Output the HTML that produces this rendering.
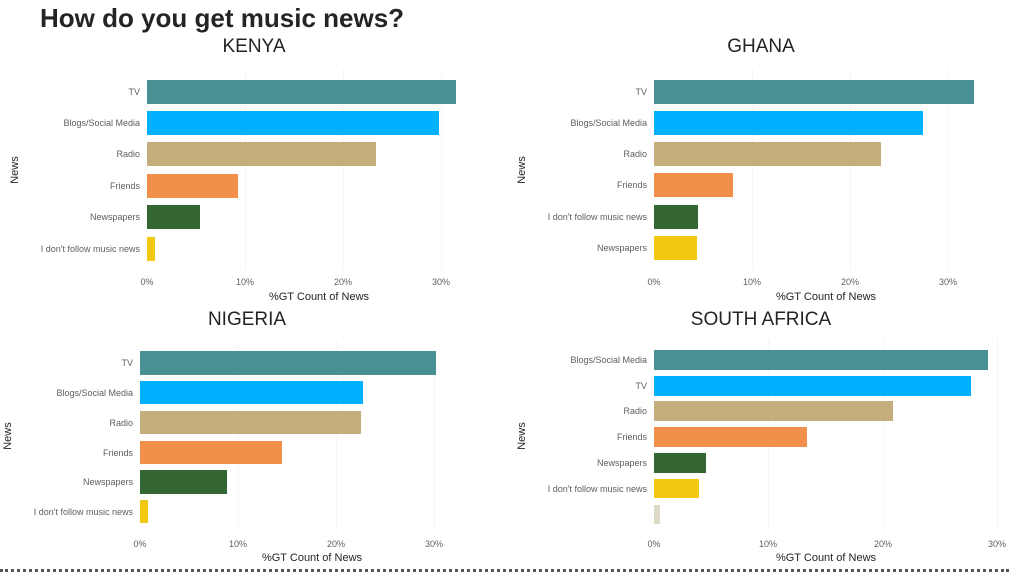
<!DOCTYPE html>
<html><head><meta charset="utf-8"><style>
body{margin:0;width:1009px;height:583px;background:#fff;position:relative;overflow:hidden;font-family:"Liberation Sans",sans-serif}
div{position:absolute}
.b{height:24px}
.l{font-size:9px;color:#605e5c;text-align:right;width:200px;line-height:12px;white-space:nowrap}
.t{font-size:9px;color:#605e5c;width:40px;text-align:center}
.g{width:0;border-left:1px dotted #eee}
.ct{font-size:19px;color:#252423;width:300px;text-align:center}
.ax{font-size:11px;color:#252423;width:200px;text-align:center}
.nw{font-size:11px;color:#252423;transform:rotate(-90deg);transform-origin:center;width:40px;text-align:center}
.c1{background:#4a8f93}.c2{background:#01b0ff}.c3{background:#c4af7c}.c4{background:#f28f4a}.c5{background:#336633}.c6{background:#f2c811}.c7{background:#dcd9c5}
</style></head><body>
<div style="left:40px;top:3px;font-size:26px;font-weight:bold;color:#252423">How do you get music news?</div>

<!-- KENYA -->
<div class="ct" style="left:104px;top:36px">KENYA</div>
<div class="g" style="left:245px;top:70px;height:200px"></div><div class="g" style="left:343px;top:70px;height:200px"></div><div class="g" style="left:441px;top:70px;height:200px"></div>
<div class="b c1" style="left:147px;top:80px;width:309px"></div>
<div class="b c2" style="left:147px;top:111px;width:292px"></div>
<div class="b c3" style="left:147px;top:142px;width:229px"></div>
<div class="b c4" style="left:147px;top:174px;width:91px"></div>
<div class="b c5" style="left:147px;top:205px;width:53px"></div>
<div class="b c6" style="left:147px;top:237px;width:8px"></div>
<div class="l" style="left:-60px;top:86px">TV</div>
<div class="l" style="left:-60px;top:117px">Blogs/Social Media</div>
<div class="l" style="left:-60px;top:148px">Radio</div>
<div class="l" style="left:-60px;top:180px">Friends</div>
<div class="l" style="left:-60px;top:211px">Newspapers</div>
<div class="l" style="left:-60px;top:243px">I don't follow music news</div>
<div class="t" style="left:127px;top:277px">0%</div><div class="t" style="left:225px;top:277px">10%</div><div class="t" style="left:323px;top:277px">20%</div><div class="t" style="left:421px;top:277px">30%</div>
<div class="ax" style="left:219px;top:291px">%GT Count of News</div>
<div class="nw" style="left:-5px;top:164px">News</div>

<!-- GHANA -->
<div class="ct" style="left:611px;top:36px">GHANA</div>
<div class="g" style="left:752px;top:70px;height:200px"></div><div class="g" style="left:850px;top:70px;height:200px"></div><div class="g" style="left:948px;top:70px;height:200px"></div>
<div class="b c1" style="left:654px;top:80px;width:320px"></div>
<div class="b c2" style="left:654px;top:111px;width:269px"></div>
<div class="b c3" style="left:654px;top:142px;width:227px"></div>
<div class="b c4" style="left:654px;top:173px;width:79px"></div>
<div class="b c5" style="left:654px;top:205px;width:44px"></div>
<div class="b c6" style="left:654px;top:236px;width:43px"></div>
<div class="l" style="left:447px;top:86px">TV</div>
<div class="l" style="left:447px;top:117px">Blogs/Social Media</div>
<div class="l" style="left:447px;top:148px">Radio</div>
<div class="l" style="left:447px;top:179px">Friends</div>
<div class="l" style="left:447px;top:211px">I don't follow music news</div>
<div class="l" style="left:447px;top:242px">Newspapers</div>
<div class="t" style="left:634px;top:277px">0%</div><div class="t" style="left:732px;top:277px">10%</div><div class="t" style="left:830px;top:277px">20%</div><div class="t" style="left:928px;top:277px">30%</div>
<div class="ax" style="left:726px;top:291px">%GT Count of News</div>
<div class="nw" style="left:502px;top:164px">News</div>

<!-- NIGERIA -->
<div class="ct" style="left:97px;top:309px">NIGERIA</div>
<div class="g" style="left:238px;top:342px;height:190px"></div><div class="g" style="left:336px;top:342px;height:190px"></div><div class="g" style="left:434px;top:342px;height:190px"></div>
<div class="b c1" style="left:140px;top:351px;width:296px"></div>
<div class="b c2" style="left:140px;top:381px;width:223px;height:23px"></div>
<div class="b c3" style="left:140px;top:411px;width:221px;height:23px"></div>
<div class="b c4" style="left:140px;top:441px;width:142px;height:23px"></div>
<div class="b c5" style="left:140px;top:470px;width:87px"></div>
<div class="b c6" style="left:140px;top:500px;width:8px;height:23px"></div>
<div class="l" style="left:-67px;top:357px">TV</div>
<div class="l" style="left:-67px;top:387px">Blogs/Social Media</div>
<div class="l" style="left:-67px;top:417px">Radio</div>
<div class="l" style="left:-67px;top:447px">Friends</div>
<div class="l" style="left:-67px;top:476px">Newspapers</div>
<div class="l" style="left:-67px;top:506px">I don't follow music news</div>
<div class="t" style="left:120px;top:539px">0%</div><div class="t" style="left:218px;top:539px">10%</div><div class="t" style="left:316px;top:539px">20%</div><div class="t" style="left:414px;top:539px">30%</div>
<div class="ax" style="left:212px;top:552px">%GT Count of News</div>
<div class="nw" style="left:-12px;top:430px">News</div>

<!-- SOUTH AFRICA -->
<div class="ct" style="left:611px;top:309px">SOUTH AFRICA</div>
<div class="g" style="left:768px;top:340px;height:192px"></div><div class="g" style="left:883px;top:340px;height:192px"></div><div class="g" style="left:997px;top:340px;height:192px"></div>
<div class="b c1" style="left:654px;top:350px;width:334px;height:20px"></div>
<div class="b c2" style="left:654px;top:376px;width:317px;height:20px"></div>
<div class="b c3" style="left:654px;top:401px;width:239px;height:20px"></div>
<div class="b c4" style="left:654px;top:427px;width:153px;height:20px"></div>
<div class="b c5" style="left:654px;top:453px;width:52px;height:20px"></div>
<div class="b c6" style="left:654px;top:479px;width:45px;height:19px"></div>
<div class="b c7" style="left:654px;top:505px;width:6px;height:19px"></div>
<div class="l" style="left:447px;top:354px">Blogs/Social Media</div>
<div class="l" style="left:447px;top:380px">TV</div>
<div class="l" style="left:447px;top:405px">Radio</div>
<div class="l" style="left:447px;top:431px">Friends</div>
<div class="l" style="left:447px;top:457px">Newspapers</div>
<div class="l" style="left:447px;top:483px">I don't follow music news</div>
<div class="t" style="left:634px;top:539px">0%</div><div class="t" style="left:748px;top:539px">10%</div><div class="t" style="left:863px;top:539px">20%</div><div class="t" style="left:977px;top:539px">30%</div>
<div class="ax" style="left:726px;top:552px">%GT Count of News</div>
<div class="nw" style="left:502px;top:430px">News</div>

<div style="left:0;top:569px;width:1009px;height:0;border-top:3px dotted #555"></div>
</body></html>
